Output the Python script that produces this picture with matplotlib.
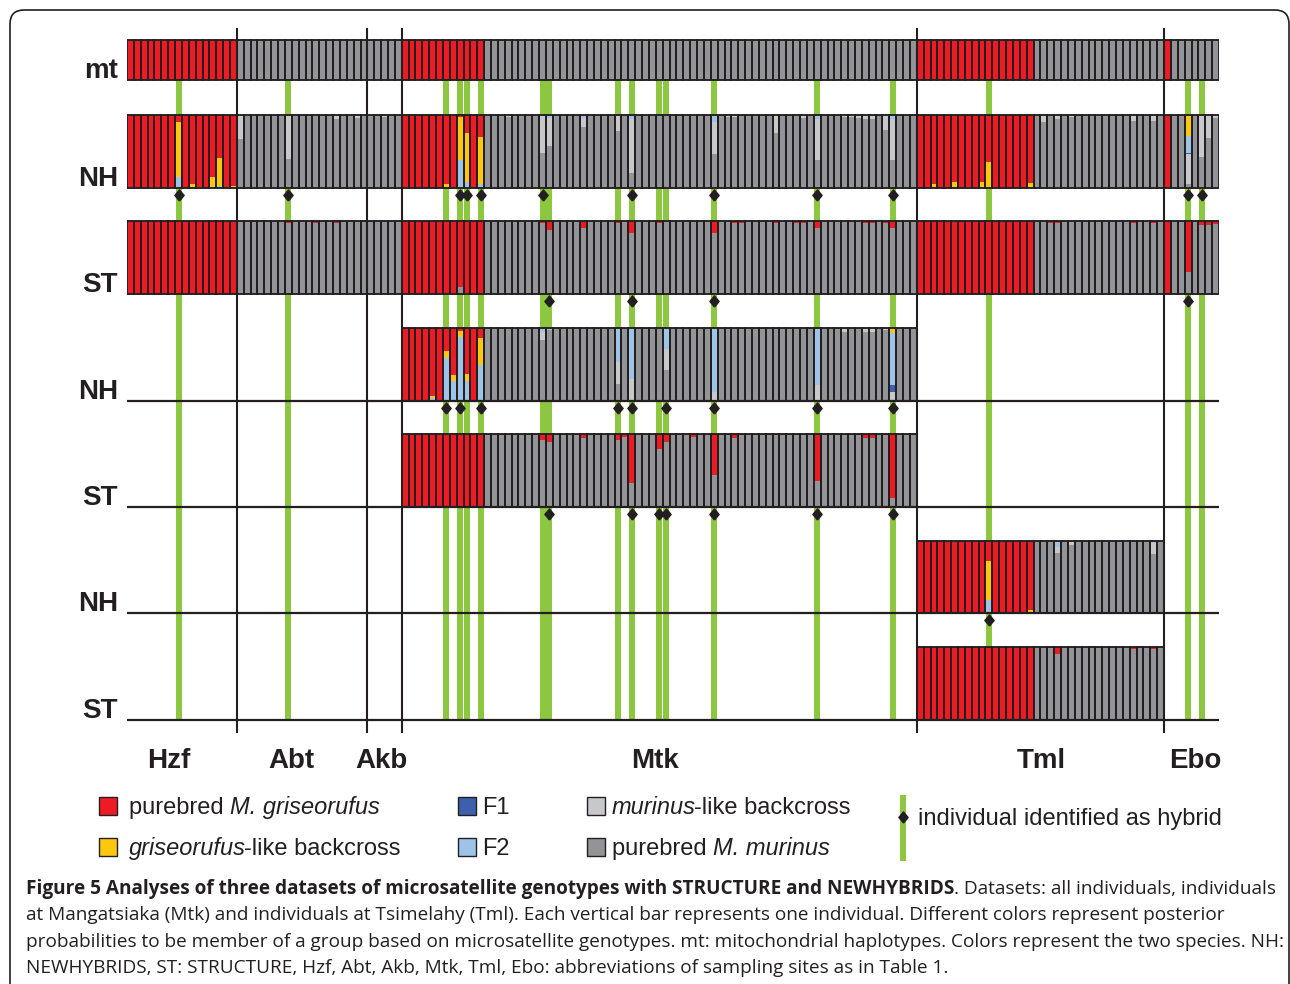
import matplotlib
matplotlib.use("Agg")
import matplotlib.pyplot as plt
from matplotlib.patches import FancyBboxPatch, Rectangle
import numpy as np

W, H = 1290, 984

# colours
RED = "#ED1C24"
YELLOW = "#FDC70F"
F1_BLUE = "#3E5FAB"
F2_BLUE = "#9DC3E6"
LIGHT_GRAY = "#C7C8CA"
GRAY = "#929497"
GREEN = "#8DC63F"
INK = "#231F20"

# sampling sites in plot order; the first n_griseo individuals of each site carry griseorufus mtDNA
sites = ["Hzf", "Abt", "Akb", "Mtk", "Tml", "Ebo"]
site_n = [16, 19, 5, 75, 36, 8]
site_n_griseo = [16, 0, 0, 12, 17, 1]
site_label_x = [6.1, 24.0, 37.1, 76.9, 133.2, 155.5]

# individuals marked by a green line
hybrid_lines = [7, 23, 46, 48, 49, 51, 60, 61, 71, 73, 77, 78, 85, 100, 111, 125, 154, 156]

# NEWHYBRIDS: index -> (griseorufus-like bc, F2, F1, murinus-like bc); rest = purebred class
nh_all = {
    3: (.02, 0, 0, 0), 7: (.75, .15, 0, 0), 9: (.06, 0, 0, 0), 10: (.02, 0, 0, 0),
    12: (.15, 0, 0, 0), 13: (.38, .03, 0, 0), 15: (.03, 0, 0, 0),
    16: (0, .02, 0, .31), 17: (0, 0, 0, .02), 18: (0, 0, 0, .02), 19: (0, 0, 0, .02),
    22: (0, 0, 0, .02), 23: (0, .02, 0, .58), 24: (0, 0, 0, .02), 27: (0, 0, 0, .02),
    30: (0, 0, 0, .05), 33: (0, 0, 0, .04), 35: (0, 0, 0, .02), 37: (0, 0, 0, .03),
    46: (.06, 0, 0, 0), 48: (.58, .39, 0, 0), 49: (.67, .08, 0, 0), 51: (.65, .05, 0, 0),
    52: (0, 0, 0, .02), 55: (0, 0, 0, .03), 60: (0, .02, 0, .50), 61: (0, .04, 0, .38),
    66: (0, .04, 0, .13), 67: (0, 0, 0, .02), 71: (0, .02, 0, .20), 73: (0, .05, 0, .75),
    76: (0, 0, 0, .02), 77: (0, 0, 0, .02), 78: (0, 0, 0, .02), 79: (0, 0, 0, .02),
    82: (0, 0, 0, .02), 83: (0, 0, 0, .02), 85: (0, .10, 0, .44), 87: (0, 0, 0, .03),
    88: (0, 0, 0, .03), 94: (0, 0, 0, .25), 97: (0, 0, 0, .02), 98: (0, 0, 0, .04),
    100: (0, .05, 0, .57), 104: (0, 0, 0, .03), 105: (0, 0, 0, .03), 106: (0, 0, 0, .04),
    107: (0, 0, 0, .06), 108: (0, 0, 0, .06), 110: (0, 0, 0, .21), 111: (0, .06, 0, .55),
    117: (.06, 0, 0, 0), 120: (.08, 0, 0, 0), 122: (.02, 0, 0, 0), 124: (.08, 0, 0, 0),
    125: (.36, 0, 0, 0), 126: (.01, 0, 0, 0), 131: (.07, 0, 0, 0),
    133: (0, 0, 0, .09), 134: (0, 0, 0, .02), 135: (0, 0, 0, .06), 137: (0, 0, 0, .03),
    140: (0, 0, 0, .02), 141: (0, 0, 0, .02), 146: (0, 0, 0, .08), 149: (0, 0, 0, .08),
    150: (0, 0, 0, .02),
    154: (.29, .23, .02, .41), 156: (0, .02, 0, .55), 157: (0, 0, 0, .31), 158: (0, 0, 0, .04),
}
nh_mtk = {
    44: (.03, .04, 0, 0), 45: (.01, 0, 0, 0), 46: (.09, .59, 0, 0), 47: (.08, .27, 0, 0),
    48: (.09, .87, 0, 0), 49: (.09, .28, 0, 0), 51: (.37, .49, 0, 0),
    53: (0, 0, 0, .02), 60: (0, .05, 0, .12), 61: (0, .03, 0, 0), 66: (0, 0, 0, .01),
    67: (0, 0, 0, .01), 71: (0, .47, 0, .30), 73: (0, .70, 0, .30), 77: (0, 0, 0, .02),
    78: (0, .29, 0, .28), 80: (0, 0, 0, .01), 82: (0, 0, 0, .01), 85: (0, .87, 0, .13),
    88: (0, 0, 0, .01), 97: (0, 0, 0, .01), 98: (0, 0, 0, .01), 100: (0, .78, 0, .22),
    104: (0, 0, 0, .06), 107: (0, 0, 0, .06), 108: (0, .02, 0, .04), 110: (0, 0, 0, .03),
    111: (.07, .71, .09, .13),
}
nh_tml = {
    119: (.01, 0, 0, 0), 125: (.54, .18, 0, 0), 131: (.04, 0, 0, 0),
    133: (0, 0, 0, .02), 134: (0, 0, 0, .02), 135: (0, .08, 0, .09), 137: (0, 0, 0, .05),
    141: (0, .02, 0, 0), 143: (0, 0, 0, .02), 145: (0, 0, 0, .02), 146: (0, 0, 0, .02),
    148: (0, 0, 0, .02), 149: (0, .03, 0, .15),
}

# STRUCTURE: index -> share assigned to the other species' cluster
st_all = {
    17: .02, 18: .02, 23: .03, 27: .03, 30: .03,
    48: .09, 49: .02, 51: .02,
    60: .03, 61: .12, 66: .09, 71: .03, 73: .16, 77: .03, 85: .16, 88: .03, 89: .03,
    94: .03, 97: .03, 98: .03, 100: .10, 107: .03, 108: .03, 110: .03, 111: .10,
    134: .03, 135: .03, 146: .03, 149: .03,
    154: .70, 156: .05, 157: .05, 158: .04,
}
st_mtk = {
    48: .01, 54: .02, 60: .08, 61: .11, 62: .02, 63: .02, 65: .02, 66: .05, 67: .02, 68: .02,
    71: .08, 72: .04, 73: .67, 77: .21, 78: .11, 79: .02, 80: .02, 82: .04, 85: .56,
    86: .02, 87: .02, 88: .05, 89: .02, 91: .02, 93: .02, 94: .02, 95: .02, 97: .02,
    98: .02, 100: .65, 104: .02, 105: .02, 106: .02, 107: .05, 108: .05, 110: .02,
    111: .87, 114: .02,
}
st_tml = {125: .02, 133: .02, 134: .02, 135: .09, 137: .02, 141: .02, 143: .02, 146: .03, 149: .03}

# individuals identified as hybrid (diamonds)
dia_nh_all = [7, 23, 48, 49, 51, 60, 73, 85, 100, 111, 154, 156]
dia_st_all = [61, 73, 85, 154]
dia_nh_mtk = [46, 48, 51, 71, 73, 78, 85, 100, 111]
dia_st_mtk = [61, 73, 77, 78, 85, 100, 111]
dia_nh_tml = [125]

# stack order bottom -> top
part_colors = [GRAY, LIGHT_GRAY, F1_BLUE, F2_BLUE, YELLOW, RED]

griseo = []
for n, g in zip(site_n, site_n_griseo):
    griseo += [True] * g + [False] * (n - g)
n_all = len(griseo)


def parts(i, kind, exc):
    if kind == "mt":
        return [0, 0, 0, 0, 0, 1] if griseo[i] else [1, 0, 0, 0, 0, 0]
    if kind == "st":
        f = exc.get(i, 0)
        return [f, 0, 0, 0, 0, 1 - f] if griseo[i] else [1 - f, 0, 0, 0, 0, f]
    y, f2, f1, lg = exc.get(i, (0, 0, 0, 0))
    rest = 1 - y - f2 - f1 - lg
    return [0, lg, f1, f2, y, rest] if griseo[i] else [rest, lg, f1, f2, y, 0]


every = range(0, n_all)
mtk = range(40, 115)
tml = range(115, 151)
# label, top px, bottom px, individuals, kind, values, diamonds
rows = [
    ("mt", 40, 80, every, "mt", None, []),
    ("NH", 115, 188, every, "nh", nh_all, dia_nh_all),
    ("ST", 221, 294, every, "st", st_all, dia_st_all),
    ("NH", 328, 401, mtk, "nh", nh_mtk, dia_nh_mtk),
    ("ST", 434, 507, mtk, "st", st_mtk, dia_st_mtk),
    ("NH", 541, 613, tml, "nh", nh_tml, dia_nh_tml),
    ("ST", 647, 720, tml, "st", st_tml, []),
]

fig = plt.figure(figsize=(W / 100, H / 100), dpi=100)
ax = fig.add_axes([127 / W, 0, 1092 / W, 1])
ax.set_xlim(0, n_all)
ax.set_ylim(0, H)
ax.axis("off")

diamond = [(0, -1.2), (1, 0), (0, 1.2), (-1, 0), (0, -1.2)]

# green hybrid lines behind the bars
ax.vlines(np.array(hybrid_lines) + 0.5, H - 720, H - 40, color=GREEN, lw=4.3, zorder=0.5)

for label, top, bottom, idx, kind, exc, dias in rows:
    xs = np.array(list(idx))
    p = np.array([parts(i, kind, exc) for i in idx])
    h = bottom - top
    y0 = H - bottom
    cum = np.zeros(len(xs))
    for k, c in enumerate(part_colors):
        ax.bar(xs, p[:, k] * h, bottom=y0 + cum * h, width=1, align="edge",
               color=c, linewidth=0, zorder=1)
        cum += p[:, k]
    ax.bar(xs, h, bottom=y0, width=1, align="edge", fill=False,
           edgecolor=INK, linewidth=1.35, zorder=1.5)
    if dias:
        ax.plot(np.array(dias) + 0.5, [y0 - 6.5] * len(dias), ls="none", marker=diamond,
                ms=8, mfc=INK, mec=INK, zorder=4)
    ax.text(-1.3, y0 + 2, label, ha="right", va="baseline", fontsize=20,
            fontweight="bold", family="Liberation Sans", color=INK)

# baselines of the subset rows and site boundaries
ax.hlines([H - 401, H - 507, H - 613, H - 720], 0, n_all, color=INK, lw=1.6, zorder=3)
ax.vlines(np.cumsum(site_n)[:-1], H - 733, H - 28, color=INK, lw=1.5, zorder=3)
for name, x in zip(sites, site_label_x):
    ax.text(x, H - 768, name, ha="center", va="baseline", fontsize=20,
            fontweight="bold", family="Liberation Sans", color=INK)

# overlay in pixel units for frame, legend and caption
over = fig.add_axes([0, 0, 1, 1])
over.set_xlim(0, W)
over.set_ylim(H, 0)
over.axis("off")
over.add_patch(FancyBboxPatch((10, 10), 1279, 1010, boxstyle="round,pad=0,rounding_size=14",
                              fill=False, edgecolor=INK, lw=1.2, clip_on=False))

renderer = fig.canvas.get_renderer()


def text_width(s, **kw):
    t1 = over.text(0, 0, "|" + s + "|", **kw)
    t2 = over.text(0, 0, "||", **kw)
    w = t1.get_window_extent(renderer).width - t2.get_window_extent(renderer).width
    t1.remove()
    t2.remove()
    return w


def rich(x, y, pieces, **kw):
    for s, style, weight in pieces:
        over.text(x, y, s, fontstyle=style, fontweight=weight, va="baseline", **kw)
        x += text_width(s, fontstyle=style, fontweight=weight, **kw)
        if style == "italic":
            x -= 2


leg_font = dict(family="Liberation Sans", fontsize=17, color=INK)
legend_items = [
    (RED, 99, 797, 129, [("purebred ", "normal", "normal"), ("M. griseorufus", "italic", "normal")]),
    (YELLOW, 99, 838, 129, [("griseorufus", "italic", "normal"), ("-like backcross", "normal", "normal")]),
    (F1_BLUE, 458, 797, 482, [("F1", "normal", "normal")]),
    (F2_BLUE, 458, 838, 482, [("F2", "normal", "normal")]),
    (LIGHT_GRAY, 587, 797, 612, [("murinus", "italic", "normal"), ("-like backcross", "normal", "normal")]),
    (GRAY, 587, 838, 612, [("purebred ", "normal", "normal"), ("M. murinus", "italic", "normal")]),
]
for color, sx, sy, tx, pieces in legend_items:
    over.add_patch(Rectangle((sx, sy), 18, 18, facecolor=color, edgecolor=INK, lw=1.0))
    rich(tx, sy + 17, pieces, **leg_font)

over.vlines(903, 795, 861, color=GREEN, lw=4.3)
over.plot(903, 817, ls="none", marker=diamond, ms=8, mfc=INK, mec=INK)
over.text(918, 825, "individual identified as hybrid", va="baseline", **leg_font)

# caption
cap_lines = [
    [("Figure 5 Analyses of three datasets of microsatellite genotypes with STRUCTURE and NEWHYBRIDS", "normal", "bold"),
     (". Datasets: all individuals, individuals", "normal", "normal")],
    [("at Mangatsiaka (Mtk) and individuals at Tsimelahy (Tml). Each vertical bar represents one individual. "
      "Different colors represent posterior", "normal", "normal")],
    [("probabilities to be member of a group based on microsatellite genotypes. mt: mitochondrial haplotypes. "
      "Colors represent the two species. NH:", "normal", "normal")],
    [("NEWHYBRIDS, ST: STRUCTURE, Hzf, Abt, Akb, Mtk, Tml, Ebo: abbreviations of sampling sites as in Table 1.",
      "normal", "normal")],
]
cap_family = "Open Sans"
w12 = sum(text_width(s, fontstyle=st, fontweight=wt, family=cap_family, fontsize=12)
          for s, st, wt in cap_lines[0])
cap_size = 12 * 1252 / w12
for k, line in enumerate(cap_lines):
    rich(26, 894 + 26.3 * k, line, family=cap_family, fontsize=cap_size, color=INK)

fig.savefig("out.png", dpi=100)
